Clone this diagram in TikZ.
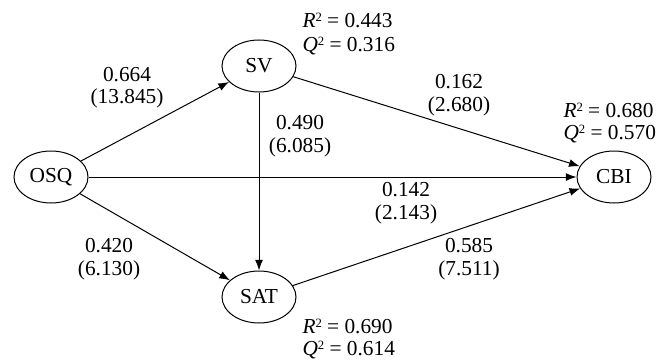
\documentclass[tikz,border=0pt]{standalone}
\usepackage{fontspec}
\setmainfont{Liberation Serif}
\usetikzlibrary{arrows.meta,shapes.geometric}
\tikzset{every picture/.style={line width=0.75pt}}
\newcommand{\sqd}{\raisebox{4.5pt}{\fontsize{9.5}{10}\selectfont 2}}

\begin{document}
\begin{tikzpicture}[x=0.75pt,y=0.75pt,yscale=-1,xscale=1,
  construct/.style={draw, ellipse, minimum width=55.5pt, minimum height=39pt, inner sep=0pt, font=\fontsize{16}{18}\selectfont},
  arrowline/.style={-{Latex[length=8pt,width=6pt]}},
  lbl/.style={inner sep=0.75pt, font=\fontsize{16}{18}\selectfont}]
\useasboundingbox (0,0) rectangle (670,360);

%Ellipse [OSQ]
\draw (51,177) node (OSQ) [construct] {OSQ};
%Ellipse [SV]
\draw (259,66) node (SV) [construct] {SV};
%Ellipse [SAT]
\draw (259,297) node (SAT) [construct] {SAT};
%Ellipse [CBI]
\draw (614,177) node (CBI) [construct] {CBI};

%Straight Lines
\draw [arrowline] (OSQ) -- (SV);
\draw [arrowline] (OSQ) -- (SAT);
\draw [arrowline] (OSQ) -- (CBI);
\draw [arrowline] (SV) -- (SAT);
\draw [arrowline] (SV) -- (CBI);
\draw [arrowline] (SAT) -- (CBI);

% Text Node
\draw (127,81) node (bosv) [lbl, anchor=base] {0.664};
% Text Node
\draw (127,103) node (tosv) [lbl, anchor=base] {(13.845)};
% Text Node
\draw (459,89) node (bsvc) [lbl, anchor=base] {0.162};
% Text Node
\draw (459,111) node (tsvc) [lbl, anchor=base] {(2.680)};
% Text Node
\draw (300,129) node (bsvs) [lbl, anchor=base] {0.490};
% Text Node
\draw (300,152) node (tsvs) [lbl, anchor=base] {(6.085)};
% Text Node
\draw (406,196) node (boc) [lbl, anchor=base] {0.142};
% Text Node
\draw (406,219) node (toc) [lbl, anchor=base] {(2.143)};
% Text Node
\draw (109,252) node (bos) [lbl, anchor=base] {0.420};
% Text Node
\draw (109,275) node (tos) [lbl, anchor=base] {(6.130)};
% Text Node
\draw (469,252) node (bsc) [lbl, anchor=base] {0.585};
% Text Node
\draw (469,275) node (tsc) [lbl, anchor=base] {(7.511)};

% Text Node
\draw (301,28) node (rsv) [lbl, anchor=base west] {\textit{R}\sqd\ = 0.443};
% Text Node
\draw (301,51) node (qsv) [lbl, anchor=base west] {\textit{Q}\sqd\ = 0.316};
% Text Node
\draw (562,117) node (rcbi) [lbl, anchor=base west] {\textit{R}\sqd\ = 0.680};
% Text Node
\draw (562,139) node (qcbi) [lbl, anchor=base west] {\textit{Q}\sqd\ = 0.570};
% Text Node
\draw (301,333) node (rsat) [lbl, anchor=base west] {\textit{R}\sqd\ = 0.690};
% Text Node
\draw (301,355) node (qsat) [lbl, anchor=base west] {\textit{Q}\sqd\ = 0.614};

\end{tikzpicture}
\end{document}
